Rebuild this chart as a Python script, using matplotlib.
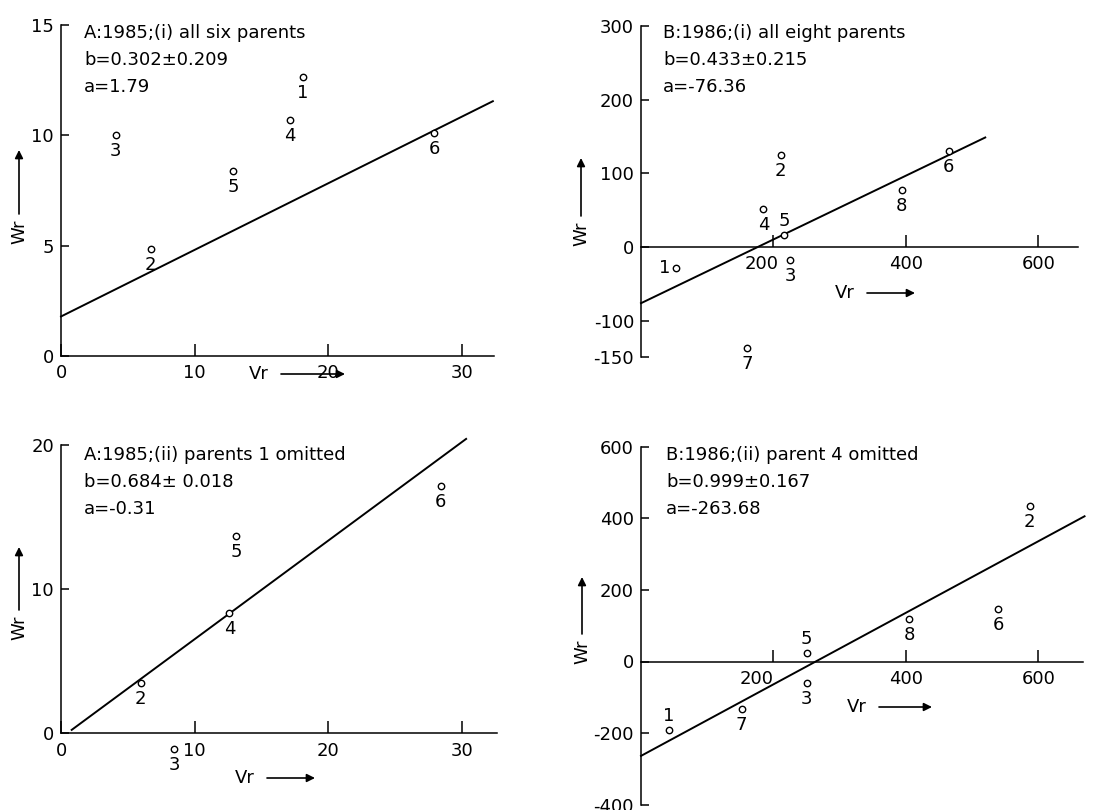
import matplotlib
matplotlib.use("Agg")
import matplotlib.pyplot as plt
from matplotlib.transforms import ScaledTranslation

plt.rcParams['font.family'] = ['DejaVu Sans']
FS = 13

# ---------------- data ----------------
# Panel A(i): 1985, all six parents
a1_ids = [1, 2, 3, 4, 5, 6]
a1_vr = [18.1, 6.7, 4.1, 17.1, 12.9, 27.9]
a1_wr = [12.65, 4.85, 10.0, 10.7, 8.4, 10.1]
a1_a, a1_b = 1.79, 0.302
a1_line_x = [0.0, 32.3]
a1_text = ["A:1985;(i) all six parents", "b=0.302±0.209", "a=1.79"]

# Panel B(i): 1986, all eight parents
b1_ids = [1, 2, 3, 4, 5, 6, 7, 8]
b1_vr = [53, 211, 225, 185, 216, 465, 160, 394]
b1_wr = [-29, 125, -18, 51, 16, 130, -137, 78]
b1_a, b1_b = -76.36, 0.433
b1_line_x = [0.0, 520.0]
b1_text = ["B:1986;(i) all eight parents", "b=0.433±0.215", "a=-76.36"]

# Panel A(ii): 1985, parent 1 omitted
a2_ids = [2, 3, 4, 5, 6]
a2_vr = [5.96, 8.45, 12.6, 13.1, 28.4]
a2_wr = [3.47, -1.09, 8.36, 13.7, 17.15]
a2_a, a2_b = -0.31, 0.684
a2_line_x = [0.8, 30.3]
a2_text = ["A:1985;(ii) parents 1 omitted", "b=0.684± 0.018", "a=-0.31"]

# Panel B(ii): 1986, parent 4 omitted
b2_ids = [1, 2, 3, 5, 6, 7, 8]
b2_vr = [42, 587, 250, 250, 540, 152, 405]
b2_wr = [-192, 434, -60, 25, 148, -134, 120]
b2_a, b2_b = -263.68, 0.999
b2_line_x = [0.0, 670.0]
b2_text = ["B:1986;(ii) parent 4 omitted", "b=0.999±0.167", "a=-263.68"]

# ---------------- layout ----------------
W, H = 1117, 810
fig = plt.figure(figsize=(W / 100, H / 100), dpi=100)
fig.patch.set_facecolor('white')


def make_ax(x0, sx, y0, sy, xlim, ylim):
    left = x0 + sx * xlim[0]
    right = x0 + sx * xlim[1]
    top = y0 - sy * ylim[1]
    bottom = y0 - sy * ylim[0]
    ax = fig.add_axes([left / W, 1 - bottom / H, (right - left) / W, (bottom - top) / H])
    ax.set_xlim(*xlim)
    ax.set_ylim(*ylim)
    ax.patch.set_alpha(0)
    return ax


def style(ax, ybounds, xbounds, yticks, xticks, first_xlabel_shift=0):
    for s in ['top', 'right']:
        ax.spines[s].set_visible(False)
    ax.spines['left'].set_position(('data', 0))
    ax.spines['left'].set_bounds(*ybounds)
    ax.spines['bottom'].set_position(('data', 0))
    ax.spines['bottom'].set_bounds(*xbounds)
    for s in ['left', 'bottom']:
        ax.spines[s].set_linewidth(1.1)
    ax.set_yticks(yticks)
    ax.set_yticklabels([str(t) for t in yticks])
    ax.set_xticks(xticks)
    ax.set_xticklabels([str(t) for t in xticks])
    ax.tick_params(axis='x', direction='in', length=9, width=1.1, pad=6, labelsize=FS)
    ax.tick_params(axis='y', direction='in', length=6, width=1.1, pad=5, labelsize=FS)
    if first_xlabel_shift:
        lab = ax.get_xticklabels()[0]
        lab.set_transform(lab.get_transform() +
                          ScaledTranslation(first_xlabel_shift / 100, 0, fig.dpi_scale_trans))


def draw(ax, ids, vr, wr, a, b, line_x, placements):
    ax.plot(vr, wr, linestyle='none', marker='o', markersize=4.6, markerfacecolor='white',
            markeredgecolor='black', markeredgewidth=1.0, zorder=3)
    ax.plot(line_x, [a + b * x for x in line_x], color='black', lw=1.4, zorder=2)
    for i, x, y in zip(ids, vr, wr):
        p = placements.get(i, 'below')
        off = {'below': (0, -16), 'above': (0, 14), 'left': (-11, 0)}[p]
        ax.annotate(str(i), (x, y), xytext=off, textcoords='offset pixels',
                    ha='center', va='center', fontsize=FS)


def header(lines, x, y):
    for k, t in enumerate(lines):
        fig.text(x / W, 1 - (y + 27 * k) / H, t, fontsize=FS, ha='left', va='top')


def wr_label(x, y, ytop):
    fig.text(x / W, 1 - y / H, "Wr", rotation=90, fontsize=FS, ha='center', va='center')
    fig.axes[0].annotate('', xy=(x / W, 1 - ytop / H), xytext=(x / W, 1 - (y - 18) / H),
                         xycoords='figure fraction', textcoords='figure fraction',
                         arrowprops=dict(arrowstyle='-|>', lw=1.2, color='black',
                                         mutation_scale=12, shrinkA=0, shrinkB=0))


def vr_label(x, y, xend):
    fig.text(x / W, 1 - y / H, "Vr", fontsize=FS, ha='center', va='center')
    fig.axes[0].annotate('', xy=(xend / W, 1 - y / H), xytext=((x + 22) / W, 1 - y / H),
                         xycoords='figure fraction', textcoords='figure fraction',
                         arrowprops=dict(arrowstyle='-|>', lw=1.2, color='black',
                                         mutation_scale=12, shrinkA=0, shrinkB=0))


# A(i)
ax1 = make_ax(61, 13.37, 356, 22.07, (-1, 33), (-2, 15.5))
style(ax1, (0, 15), (0, 32.4), [0, 5, 10, 15], [0, 10, 20, 30])
draw(ax1, a1_ids, a1_vr, a1_wr, a1_a, a1_b, a1_line_x, {})
header(a1_text, 84, 24)

# B(i)
ax2 = make_ax(641, 0.662, 247, 0.736, (-20, 680), (-165, 310))
style(ax2, (-150, 300), (0, 660), [-150, -100, 0, 100, 200, 300], [200, 400, 600],
      first_xlabel_shift=-12)
draw(ax2, b1_ids, b1_vr, b1_wr, b1_a, b1_b, b1_line_x, {1: 'left', 5: 'above'})
header(b1_text, 663, 24)

# A(ii)
ax3 = make_ax(61, 13.37, 733.3, 14.42, (-1, 33), (-3, 21))
style(ax3, (0, 20), (0, 32.6), [0, 10, 20], [0, 10, 20, 30])
draw(ax3, a2_ids, a2_vr, a2_wr, a2_a, a2_b, a2_line_x, {})
header(a2_text, 84, 446)

# B(ii)
ax4 = make_ax(641, 0.662, 661.5, 0.358, (-20, 700), (-420, 620))
style(ax4, (-400, 600), (0, 668), [-400, -200, 0, 200, 400, 600], [200, 400, 600],
      first_xlabel_shift=-17)
draw(ax4, b2_ids, b2_vr, b2_wr, b2_a, b2_b, b2_line_x, {1: 'above', 5: 'above'})
header(b2_text, 666, 446)

# axis name labels with arrows
wr_label(19, 232, 150)
wr_label(19, 628, 547)
wr_label(581, 234, 158)
wr_label(582, 652, 577)
vr_label(259, 374, 345)
vr_label(245, 778, 315)
vr_label(845, 293, 915)
vr_label(857, 707, 932)

fig.savefig("out.png", dpi=100, facecolor='white')
